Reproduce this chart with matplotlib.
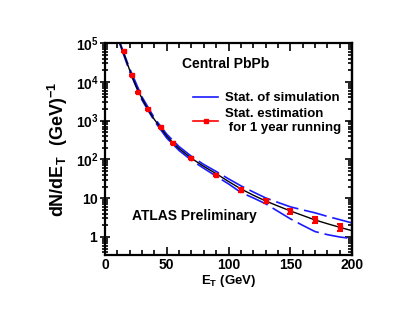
import numpy as np
import matplotlib
matplotlib.use('Agg')
from matplotlib import pyplot as plt
from matplotlib.lines import Line2D
from matplotlib.ticker import FixedLocator, FixedFormatter, LogLocator, MultipleLocator, NullFormatter

plt.rcParams['font.family'] = ['Liberation Sans', 'DejaVu Sans']
plt.rcParams['font.weight'] = 'bold'
plt.rcParams['mathtext.fontset'] = 'custom'
plt.rcParams['mathtext.rm'] = 'Liberation Sans:bold'
plt.rcParams['mathtext.bf'] = 'Liberation Sans:bold'
plt.rcParams['mathtext.it'] = 'Liberation Sans:bold'

# fitted spectrum (black line)
fit_E = [12, 15, 20, 25, 30, 35, 40, 45, 50, 55, 60, 70, 80, 90, 100,
         110, 120, 130, 140, 150, 160, 170, 180, 190, 200]
fit_y = [1.0e5, 5.6e4, 2.0e4, 7.9e3, 3.7e3, 1.9e3, 1.07e3, 650, 400, 270, 190,
         107, 66, 43, 27, 17.4, 12, 8.5, 6.3, 4.7, 3.6, 2.75, 2.2, 1.78, 1.45]

# simulation statistics band (blue dashed)
band_E = [12, 20, 30, 40, 50, 60, 70, 80, 90, 100, 110, 120, 130, 140, 150,
          160, 170, 180, 190, 200]
band_hi = [1.05e5, 2.19e4, 4.07e3, 1.17e3, 447, 214, 120, 74, 49, 31.6, 20.9,
           14.5, 10.2, 7.8, 6.0, 5.0, 4.2, 3.4, 2.8, 2.3]
band_lo = [9.5e4, 1.82e4, 3.39e3, 977, 355, 170, 95, 59, 37, 23.4, 14.1,
           10.2, 7.2, 4.6, 2.95, 2.0, 1.38, 1.15, 1.0, 0.91]

# estimated points for 1 year running (red)
pts_E = [15, 22, 27, 35, 45, 55, 70, 90, 110, 130, 150, 170, 190]
pts_y = [6.2e4, 1.5e4, 5.4e3, 1.95e3, 670, 270, 110, 40, 16.5, 8.5, 4.7, 2.8, 1.8]
pts_err = [1900, 450, 160, 60, 27, 13, 6.6, 3.2, 1.65, 1.0, 0.7, 0.5, 0.41]

ytick_vals = [1, 10, 100, 1e3, 1e4, 1e5]
ytick_labels = [r'$\mathbf{1}$', r'$\mathbf{10}$', r'$\mathbf{10^2}$',
                r'$\mathbf{10^3}$', r'$\mathbf{10^4}$', r'$\mathbf{10^5}$']

fig = plt.figure(figsize=(4.07, 3.15), dpi=100)
ax = fig.add_axes([0.258, 0.19, 0.607, 0.673])

ax.plot(band_E, band_hi, color='#1a1aff', lw=1.2, dashes=(14, 3.5))
ax.plot(band_E, band_lo, color='#1a1aff', lw=1.2, dashes=(14, 3.5))
ax.plot(fit_E, fit_y, color='black', lw=1.0)
ax.errorbar(pts_E, pts_y, yerr=pts_err, fmt='s', color='red', ms=2.8,
            ecolor='red', elinewidth=1.5, capsize=2.5, capthick=1.5, zorder=5)

ax.set_yscale('log')
ax.set_xlim(0, 200)
ax.set_ylim(0.34, 1e5)

ax.xaxis.set_major_locator(MultipleLocator(50))
ax.xaxis.set_minor_locator(MultipleLocator(10))
ax.yaxis.set_major_locator(FixedLocator(ytick_vals))
ax.yaxis.set_major_formatter(FixedFormatter(ytick_labels))
ax.yaxis.set_minor_locator(LogLocator(base=10, subs=np.arange(2, 10)))
ax.yaxis.set_minor_formatter(NullFormatter())

ax.tick_params(axis='x', which='both', direction='in', top=True, width=1.2,
               labelsize=10, pad=2)
ax.tick_params(axis='x', which='major', length=6)
ax.tick_params(axis='x', which='minor', length=3.5)
ax.tick_params(axis='y', which='both', direction='inout', right=False,
               width=1.2, labelsize=10, pad=1)
ax.tick_params(axis='y', which='major', length=7)
ax.tick_params(axis='y', which='minor', length=5)

sec = ax.secondary_yaxis('right')
sec.yaxis.set_major_locator(FixedLocator(ytick_vals))
sec.yaxis.set_minor_locator(LogLocator(base=10, subs=np.arange(2, 10)))
sec.tick_params(which='both', direction='in', labelright=False, width=1.2)
sec.tick_params(which='major', length=5)
sec.tick_params(which='minor', length=3)
sec.spines['right'].set_linewidth(1.6)

for s in ax.spines.values():
    s.set_linewidth(1.6)

ax.set_xlabel(r'$\mathbf{E_T}$ (GeV)', fontsize=9.5, fontweight='bold', labelpad=1)
ax.set_ylabel(r'$\mathbf{dN/dE_T\ \ (GeV)^{-1}}$', fontsize=13, labelpad=4)

ax.text(0.31, 0.90, 'Central PbPb', transform=ax.transAxes, fontsize=10,
        fontweight='bold', va='center')
ax.text(0.11, 0.185, 'ATLAS Preliminary', transform=ax.transAxes, fontsize=10,
        fontweight='bold', va='center')

handles = [Line2D([], [], color='#1a1aff', lw=1.2),
           Line2D([], [], color='red', lw=1.2, marker='s', ms=3)]
labels = ['Stat. of simulation', 'Stat. estimation\n for 1 year running']
leg = ax.legend(handles, labels, loc='upper left', bbox_to_anchor=(0.33, 0.80),
                frameon=False, fontsize=9.5, handlelength=1.9, handletextpad=0.5,
                borderpad=0, labelspacing=0.3)
for t in leg.get_texts():
    t.set_fontweight('bold')

fig.savefig('out.png', dpi=100)
